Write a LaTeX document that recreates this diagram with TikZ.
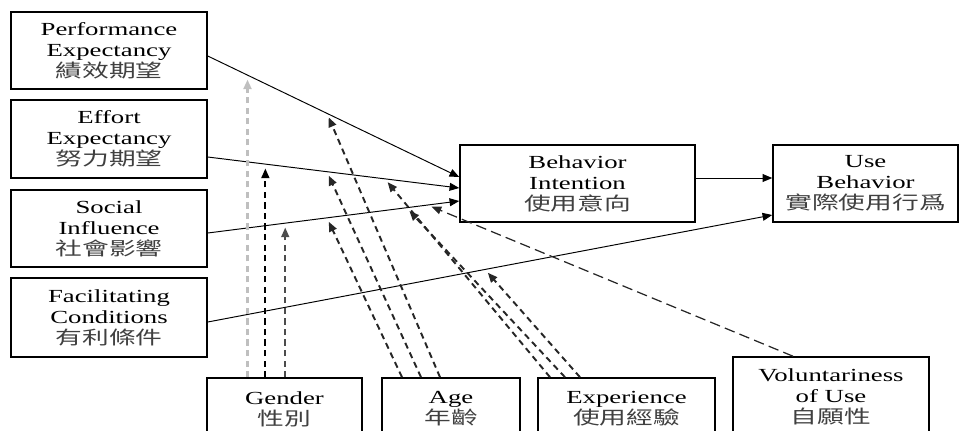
\documentclass[tikz,border=0pt]{standalone}
\usepackage{fontspec}
\setmainfont[FakeStretch=1.45]{Liberation Serif}
\newfontfamily\cjk[FakeStretch=1.45]{Noto Sans CJK TC}
\newcommand\zhtext[1]{{\cjk\color{black!75}#1}}
\usetikzlibrary{arrows.meta}
\begin{document}
\begin{tikzpicture}[x=0.02cm, y=-0.02cm,
    box/.style={draw, line width=0.9pt, align=center, inner sep=0pt, font=\fontsize{10.5}{12}\selectfont},
    arr/.style={-{Triangle[length=5.5pt,width=4.5pt]}, line width=0.55pt},
    mod/.style={-{Triangle[length=5.5pt,width=4.5pt]}, line width=1.1pt, black!85, dash pattern=on 3.5pt off 2.5pt, shorten >=2.5pt}]
  \useasboundingbox (0,0) rectangle (962,430);
  % 左側の要因
  \node[box, minimum width=3.92cm, minimum height=1.54cm] (pe) at (109,50.5) {Performance\\Expectancy\\\zhtext{績效期望}};
  \node[box, minimum width=3.92cm, minimum height=1.56cm] (ee) at (109,139) {Effort\\Expectancy\\\zhtext{努力期望}};
  \node[box, minimum width=3.92cm, minimum height=1.54cm] (si) at (109,228.5) {Social\\Influence\\\zhtext{社會影響}};
  \node[box, minimum width=3.92cm, minimum height=1.58cm] (fc) at (109,317.5) {Facilitating\\Conditions\\\zhtext{有利條件}};
  % 意向と行動
  \node[box, minimum width=4.7cm, minimum height=1.54cm] (bi) at (577.5,183.5) {Behavior\\Intention\\\zhtext{使用意向}};
  \node[box, minimum width=3.7cm, minimum height=1.54cm] (ub) at (865.5,183.5) {Use\\Behavior\\\zhtext{實際使用行爲}};
  % 調整変数
  \node[box, minimum width=3.1cm, minimum height=1.24cm] (gender) at (284.5,409) {Gender\\\zhtext{性別}};
  \node[box, minimum width=2.76cm, minimum height=1.24cm] (age) at (451,409) {Age\\\zhtext{年齡}};
  \node[box, minimum width=3.54cm, minimum height=1.24cm] (exp) at (626.5,409) {Experience\\\zhtext{使用經驗}};
  \node[box, minimum width=3.92cm, minimum height=1.6cm] (vol) at (831,397) {Voluntariness\\of Use\\\zhtext{自願性}};

  % 主な経路
  \draw[arr] (pe.east |- 0,56) -- coordinate[pos=0.158] (pe-g) coordinate[pos=0.474] (pe-a) (bi.west |- 0,177);
  \draw[arr] (ee.east |- 0,157) -- coordinate[pos=0.229] (ee-g) coordinate[pos=0.474] (ee-a) coordinate[pos=0.704] (ee-e) (bi.west |- 0,188);
  \draw[arr] (si.east |- 0,233) -- coordinate[pos=0.308] (si-g) coordinate[pos=0.474] (si-a) coordinate[pos=0.79] (si-e) coordinate[pos=0.874] (si-v) (bi.west |- 0,201);
  \draw[arr] (fc.east |- 0,322) -- coordinate[pos=0.491] (fc-e) (ub.west |- 0,215);
  \draw[arr] (bi.east |- 0,178) -- (ub.west |- 0,178);

  % 調整効果
  \draw[mod, gray!50, line width=1.6pt] (pe-g |- gender.north) -- (pe-g);
  \draw[mod, black] (ee-g |- gender.north) -- (ee-g);
  \draw[mod, black!70] (si-g |- gender.north) -- (si-g);
  \draw[mod] ([xshift=-0.22cm]age.north) -- (pe-a);
  \draw[mod] ([xshift=-0.6cm]age.north) -- (ee-a);
  \draw[mod] ([xshift=-0.98cm]age.north) -- (si-a);
  \draw[mod] ([xshift=-1.53cm]exp.north) -- (ee-e);
  \draw[mod] ([xshift=-1.23cm]exp.north) -- (si-e);
  \draw[mod] ([xshift=-0.93cm]exp.north) -- (fc-e);
  \draw[mod, line width=0.7pt, dash pattern=on 6pt off 3pt] ([xshift=-0.76cm]vol.north) -- (si-v);
\end{tikzpicture}
\end{document}
